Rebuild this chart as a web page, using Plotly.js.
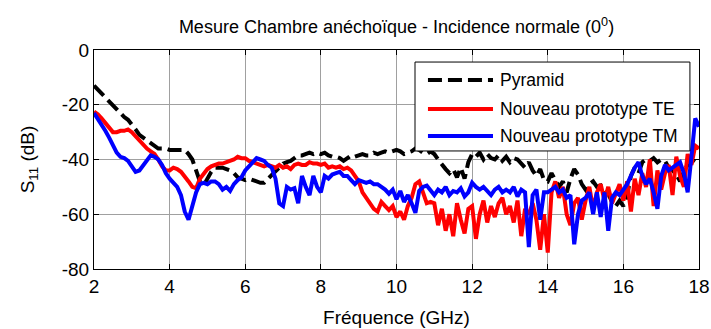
<!DOCTYPE html>
<html>
<head>
<meta charset="utf-8">
<script src="https://cdn.plot.ly/plotly-3.0.1.min.js"></script>
<style>html,body{margin:0;padding:0;background:#fff;}#chart{width:711px;height:329px;}</style>
</head>
<body>
<div id="chart"></div>
<script>
// Frequency grid (GHz), 0.1 GHz steps from 2 to 18
const freq = [];
for (let i = 0; i <= 160; i++) freq.push(+(2 + i * 0.1).toFixed(1));

const seriesNames = ["Pyramid", "Nouveau prototype TE", "Nouveau prototype TM"];

const pyramid = [
  -13, -14.5, -16, -17.5, -19, -20.5, -22, -23.5, -24.5, -25.5,
  -27, -29, -31, -32, -33, -34, -35, -36, -36, -36,
  -36.5, -36.5, -36.5, -36.5, -36.5, -38, -40, -44, -48, -49.5,
  -47, -44.5, -43, -43, -43, -43.5, -44, -45, -46.5, -47,
  -47.5, -47, -47.5, -48, -48.5, -48.5, -47, -45.5, -44, -42.5,
  -41.5, -41, -40.5, -39.5, -38.5, -38.5, -38, -37.5, -38, -37.5,
  -38, -37.5, -38.5, -39, -39, -39.5, -40.5, -39.5, -38.5, -39,
  -38.5, -38, -38.5, -38.5, -37.5, -38, -37.5, -37, -37.5, -37,
  -36.5, -37, -38, -37.5, -37, -36, -36.5, -37.5, -38, -37,
  -38, -40, -42, -43.5, -45, -43.5, -46.5, -43, -47, -41,
  -38, -39, -37.5, -40, -38, -39.5, -40, -38.5, -40.5, -39,
  -41, -39.5, -40, -41.5, -43, -41, -44, -46, -43.5, -47.5,
  -48, -45, -47.5, -50, -48, -52, -47, -43.5, -45.5, -49,
  -51, -49, -48, -50, -49.5, -52, -52.5, -55.5, -57, -55,
  -57, -53, -46, -43, -45, -41, -40, -40.5, -39.5, -41,
  -40, -40.5, -43, -44, -45.5, -48, -44, -42, -40, -41,
  -40
];

const protoTE = [
  -22.5, -23.5, -25, -26.5, -28.5, -30, -30, -29.5, -29.5, -29,
  -30, -31.5, -33.5, -35, -36, -37, -38, -40, -42.5, -44,
  -44, -43, -43.5, -44.5, -46, -48, -50, -50.5, -47, -45,
  -43.5, -42.5, -42, -41.5, -41.5, -41, -40.5, -40, -39, -39.5,
  -39.5, -40.5, -41, -41.5, -42, -42.5, -42, -42.5, -43, -42,
  -43, -42.5, -43.5, -42, -41.5, -42, -42, -41, -41.5, -41.5,
  -42, -41.5, -43, -42.5, -43, -42.5, -43.5, -43, -44, -46,
  -48, -52, -54, -56, -58, -59, -55.5, -57, -58.5, -57,
  -61, -59, -62, -57, -54, -49, -48, -52, -56, -55.5,
  -56, -64, -58, -66, -60, -68, -56, -62, -67, -58,
  -57, -69, -60, -55, -63, -57, -61, -56, -54, -60,
  -57, -63, -55, -68, -58, -60, -56, -62, -73, -60,
  -74, -52, -48, -54, -50, -60, -64, -56, -54, -62,
  -55, -50, -58, -52, -49, -55, -50, -56, -52, -49,
  -55, -48, -59, -47, -53, -45, -50, -40, -57, -44,
  -51, -45, -42, -53, -39, -46, -50, -38, -42, -35,
  -36
];

const protoTM = [
  -23, -25, -27.5, -29.5, -32, -35, -37.5, -39, -39.5, -40.5,
  -42.5, -44.5, -44, -42, -40, -38.5, -39, -40, -42, -45,
  -47, -48.5, -50, -53, -59, -62, -57, -52, -49, -48.5,
  -49, -48, -48, -49, -51, -50, -51.5, -49, -47.5, -46.5,
  -44, -42.5, -41, -39.5, -40, -40.5, -42, -43, -47, -56,
  -57, -50, -51, -50.5, -56, -46, -50, -53, -46, -50,
  -52, -46, -47, -45.5, -45, -44.5, -46, -46, -47.5, -49,
  -47.5, -48, -48.5, -48, -49, -49, -50, -51, -52.5, -51,
  -54.5, -51.5, -55.5, -53, -56, -59.5, -51.5, -50, -49.5, -51,
  -53, -51, -52, -50, -53, -51.5, -52, -50.5, -53.5, -52,
  -48.5, -50, -51, -50, -51.5, -53, -51, -50, -52, -51,
  -52, -50, -53.5, -51, -52, -72, -53, -51, -62, -52,
  -52, -51, -50, -52, -51, -54, -53, -71, -60, -55,
  -54, -52, -60, -52, -61, -52, -66, -54, -52, -53,
  -51, -49, -46, -43, -41, -46, -49, -47, -52, -58,
  -46, -42, -44, -43, -42, -41, -45, -52, -39, -25,
  -28
];

const xTicks = [2, 4, 6, 8, 10, 12, 14, 16, 18];
const yTicks = [-80, -60, -40, -20, 0];
const colors = ["#000000", "#ff0000", "#0000ff"];
const FONT = "Liberation Sans, Arial";

const traces = [
  {x: freq, y: pyramid, name: seriesNames[0], mode: "lines", line: {color: colors[0], width: 4, dash: "14px,6px"}},
  {x: freq, y: protoTE, name: seriesNames[1], mode: "lines", line: {color: colors[1], width: 4}},
  {x: freq, y: protoTM, name: seriesNames[2], mode: "lines", line: {color: colors[2], width: 4}}
];

// manual MATLAB-style legend (paper coords)
const lgX0 = 0.5306, lgX1 = 0.985, lgY0 = 0.539, lgY1 = 0.945;
const lgLineX0 = 0.552, lgLineX1 = 0.6595, lgTextX = 0.668;
const lgRows = [0.863, 0.7306, 0.607];
const shapes = [{type: "rect", xref: "paper", yref: "paper", x0: lgX0, x1: lgX1, y0: lgY0, y1: lgY1,
  line: {color: "#000", width: 1}, fillcolor: "#fff", layer: "above"}];
const annotations = [];
lgRows.forEach((yy, i) => {
  shapes.push({type: "line", xref: "paper", yref: "paper", x0: lgLineX0, x1: lgLineX1, y0: yy, y1: yy,
    line: {color: colors[i], width: 4, dash: i === 0 ? "14px,6px" : "solid"}, layer: "above"});
  annotations.push({xref: "paper", yref: "paper", x: lgTextX, y: yy, xanchor: "left", yanchor: "middle",
    text: seriesNames[i], showarrow: false, font: {family: FONT, size: 17.5, color: "#000"}});
});

const axisCommon = {
  showline: true, linecolor: "#000", linewidth: 1, mirror: "ticks",
  ticks: "inside", ticklen: 5, tickcolor: "#000",
  showgrid: true, gridcolor: "#a0a0a0", gridwidth: 1,
  zeroline: false, tickfont: {family: FONT, size: 19, color: "#000"}
};

const layout = {
  width: 711, height: 329,
  margin: {l: 94, r: 12, t: 50, b: 60},
  paper_bgcolor: "#fff", plot_bgcolor: "#fff",
  showlegend: false,
  font: {family: FONT, color: "#000"},
  title: {text: "Mesure Chambre anéchoïque - Incidence normale (0<sup>0</sup>)",
    font: {family: FONT, size: 18, color: "#000"},
    x: 0.5, xref: "paper", xanchor: "center", y: 0.918, yref: "container", yanchor: "middle"},
  xaxis: Object.assign({}, axisCommon, {range: [2, 18], tickvals: xTicks, ticktext: xTicks.map(String),
    title: {text: "Fréquence (GHz)", font: {family: FONT, size: 19, color: "#000"}, standoff: 14}}),
  yaxis: Object.assign({}, axisCommon, {range: [-80, 0], tickvals: yTicks, ticktext: yTicks.map(String),
    title: {text: "S<sub>11</sub> (dB)", font: {family: FONT, size: 19, color: "#000"}, standoff: 22}}),
  shapes: shapes,
  annotations: annotations
};

Plotly.newPlot("chart", traces, layout, {displayModeBar: false, staticPlot: true});
</script>
</body>
</html>
